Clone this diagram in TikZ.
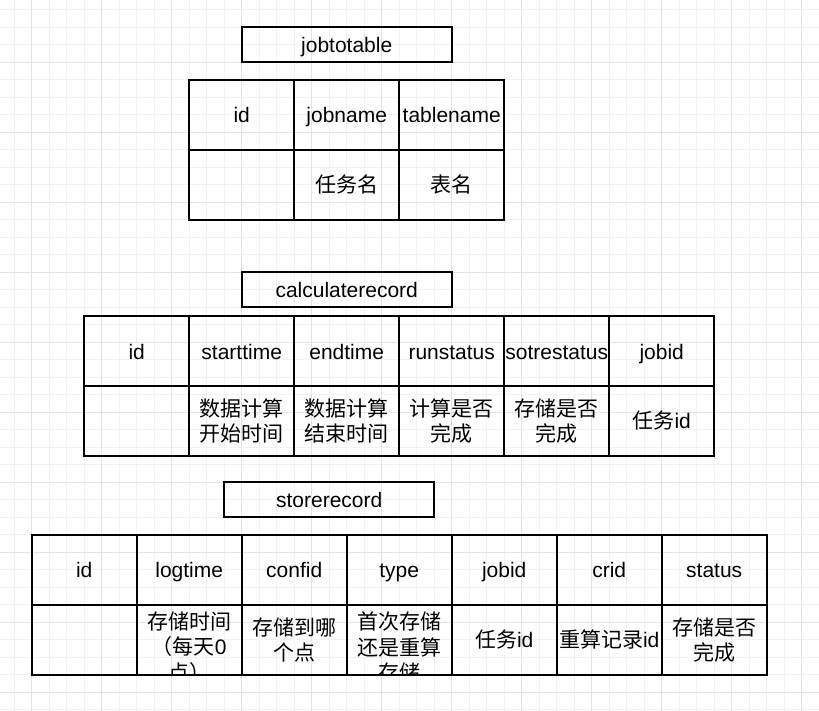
\documentclass[tikz,border=0pt]{standalone}
\usepackage{fontspec}
\setmainfont{Liberation Sans}
\newfontfamily\cjk{Noto Sans CJK SC}
\newcommand{\zh}[1]{{\cjk #1}}

\begin{document}
\begin{tikzpicture}[x=1pt, y=-1pt,
    gridminor/.style={draw=black!5, line width=1pt},
    gridmajor/.style={draw=black!11, line width=1pt},
    cell/.style={draw, line width=1.8pt, minimum width=105pt, minimum height=70pt, inner sep=0pt, align=center},
    headcell/.style={cell, text height=16pt, text depth=0pt},
    titlebox/.style={draw, line width=1.8pt, minimum width=210pt, minimum height=35pt, inner sep=0pt, text height=16pt, text depth=0pt},
    every node/.style={font=\fontsize{21}{25.5}\selectfont}]
    % background grid
    \useasboundingbox (0,0) rectangle (819,711);
    \fill[white] (0,0) rectangle (819,711);
    \foreach \k in {0,...,46} \draw[gridminor] ({14.2+17.5*\k},0) -- ({14.2+17.5*\k},711);
    \foreach \k in {0,...,40} \draw[gridminor] (0,{9.8+17.5*\k}) -- (819,{9.8+17.5*\k});
    \foreach \k in {0,...,11} \draw[gridmajor] ({31.7+70*\k},0) -- ({31.7+70*\k},711);
    \foreach \k in {0,...,9} \draw[gridmajor] (0,{62.3+70*\k}) -- (819,{62.3+70*\k});

    % jobtotable
    \node[titlebox] (jt-title) at (346.7,44.8) {jobtotable};
    \foreach \name [count=\i from 0] in {id,jobname,tablename}
        \node[headcell] (jt-\name) at ({241.7+105*\i},114.8) {\name};
    \node[cell] (jt-id-v) at (241.7,184.8) {};
    \node[cell] (jt-jobname-v) at (346.7,184.8) {\zh{任务名}};
    \node[cell] (jt-tablename-v) at (451.7,184.8) {\zh{表名}};

    % calculaterecord
    \node[titlebox] (cr-title) at (346.7,289.8) {calculaterecord};
    \foreach \name [count=\i from 0] in {id,starttime,endtime,runstatus,sotrestatus,jobid}
        \node[headcell] (cr-\name) at ({136.7+105*\i},351) {\name};
    \node[cell] (cr-id-v) at (136.7,421) {};
    \node[cell] (cr-starttime-v) at (241.7,421) {\zh{数据计算}\\\zh{开始时间}};
    \node[cell] (cr-endtime-v) at (346.7,421) {\zh{数据计算}\\\zh{结束时间}};
    \node[cell] (cr-runstatus-v) at (451.7,421) {\zh{计算是否}\\\zh{完成}};
    \node[cell] (cr-sotrestatus-v) at (556.7,421) {\zh{存储是否}\\\zh{完成}};
    \node[cell] (cr-jobid-v) at (661.7,421) {\zh{任务}id};

    % storerecord
    \node[titlebox] (sr-title) at (329.2,499.8) {storerecord};
    \foreach \name [count=\i from 0] in {id,logtime,confid,type,jobid,crid,status}
        \node[headcell] (sr-\name) at ({84.2+105*\i},569.9) {\name};
    \node[cell] (sr-id-v) at (84.2,639.9) {};
    \node[cell] (sr-logtime-v) at (189.2,639.9) {};
    \node[cell] (sr-confid-v) at (294.2,639.9) {\zh{存储到哪}\\\zh{个点}};
    \node[cell] (sr-type-v) at (399.2,639.9) {};
    \node[cell] (sr-jobid-v) at (504.2,639.9) {\zh{任务}id};
    \node[cell] (sr-crid-v) at (609.2,639.9) {\zh{重算记录}id};
    \node[cell] (sr-status-v) at (714.2,639.9) {\zh{存储是否}\\\zh{完成}};
    % overflowing texts, cut at the cell border
    \begin{scope}
        \clip (sr-logtime-v.north west) rectangle (sr-logtime-v.south east);
        \node[align=center, inner sep=0pt] (sr-logtime-t) at (189.2,647) {\zh{存储时间}\\\zh{（每天}0\\\zh{点）}};
    \end{scope}
    \begin{scope}
        \clip (sr-type-v.north west) rectangle (sr-type-v.south east);
        \node[align=center, inner sep=0pt] (sr-type-t) at (399.2,647) {\zh{首次存储}\\\zh{还是重算}\\\zh{存储}};
    \end{scope}
\end{tikzpicture}
\end{document}
